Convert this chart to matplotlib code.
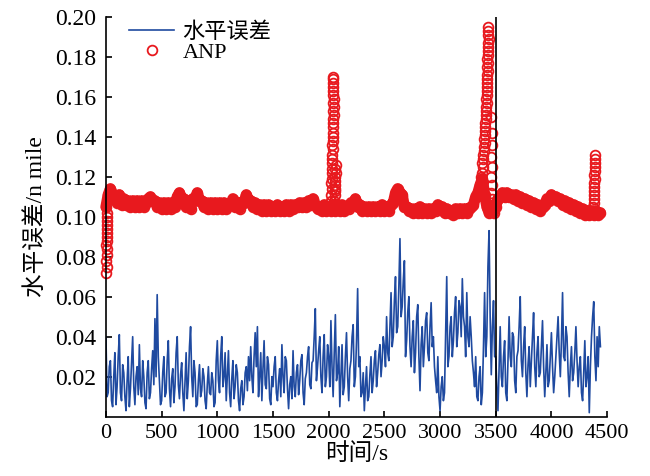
import numpy as np
import matplotlib
matplotlib.use("Agg")
from matplotlib import pyplot as plt

plt.rcParams['font.family'] = ['Liberation Serif', 'Noto Sans CJK SC']
plt.rcParams['axes.unicode_minus'] = False

# Horizontal error (blue line), one value every 10 s from 0 s to 4440 s
err_step = 10
err_values = [
    # 0 - 490 s
    0.040, 0.010, 0.012, 0.025, 0.028, 0.008, 0.005, 0.020, 0.032, 0.006,
    0.015, 0.030, 0.041, 0.012, 0.008, 0.026, 0.022, 0.010, 0.003, 0.018,
    0.030, 0.005, 0.014, 0.027, 0.040, 0.015, 0.006, 0.020, 0.025, 0.011,
    0.036, 0.014, 0.010, 0.028, 0.020, 0.007, 0.004, 0.022, 0.028, 0.009,
    0.012, 0.024, 0.033, 0.016, 0.049, 0.020, 0.061, 0.030, 0.018, 0.006,
    # 500 - 990 s
    0.008, 0.022, 0.030, 0.010, 0.012, 0.028, 0.038, 0.014, 0.005, 0.019,
    0.024, 0.007, 0.015, 0.032, 0.040, 0.016, 0.009, 0.021, 0.027, 0.012,
    0.003, 0.017, 0.032, 0.009, 0.018, 0.035, 0.045, 0.020, 0.010, 0.028,
    0.022, 0.005, 0.006, 0.018, 0.026, 0.010, 0.013, 0.024, 0.020, 0.008,
    0.004, 0.016, 0.025, 0.012, 0.011, 0.022, 0.018, 0.005, 0.007, 0.028,
    # 1000 - 1490 s
    0.038, 0.018, 0.012, 0.030, 0.040, 0.015, 0.020, 0.032, 0.008, 0.021,
    0.033, 0.012, 0.005, 0.019, 0.028, 0.009, 0.015, 0.026, 0.022, 0.008,
    0.003, 0.014, 0.018, 0.006, 0.010, 0.022, 0.025, 0.013, 0.030, 0.018,
    0.035, 0.020, 0.012, 0.030, 0.042, 0.025, 0.045, 0.010, 0.020, 0.032,
    0.008, 0.024, 0.038, 0.016, 0.014, 0.030, 0.026, 0.009, 0.006, 0.020,
    # 1500 - 1990 s
    0.015, 0.025, 0.030, 0.012, 0.008, 0.018, 0.024, 0.010, 0.036, 0.020,
    0.012, 0.030, 0.028, 0.014, 0.004, 0.016, 0.020, 0.009, 0.033, 0.015,
    0.010, 0.022, 0.026, 0.011, 0.018, 0.028, 0.031, 0.012, 0.006, 0.019,
    0.022, 0.030, 0.035, 0.016, 0.014, 0.027, 0.028, 0.040, 0.054, 0.018,
    0.025, 0.033, 0.040, 0.020, 0.012, 0.030, 0.041, 0.015, 0.020, 0.036,
    # 2000 - 2490 s
    0.030, 0.015, 0.048, 0.025, 0.010, 0.032, 0.051, 0.018, 0.022, 0.035,
    0.005, 0.020, 0.036, 0.011, 0.015, 0.030, 0.042, 0.020, 0.008, 0.024,
    0.028, 0.040, 0.046, 0.015, 0.020, 0.038, 0.064, 0.025, 0.030, 0.010,
    0.012, 0.022, 0.003, 0.015, 0.025, 0.008, 0.010, 0.021, 0.030, 0.012,
    0.018, 0.028, 0.033, 0.015, 0.022, 0.031, 0.036, 0.020, 0.028, 0.040,
    # 2500 - 2990 s
    0.035, 0.025, 0.050, 0.032, 0.028, 0.045, 0.062, 0.035, 0.040, 0.058,
    0.070, 0.042, 0.045, 0.065, 0.089, 0.050, 0.055, 0.068, 0.078, 0.030,
    0.038, 0.052, 0.060, 0.035, 0.025, 0.040, 0.048, 0.022, 0.032, 0.050,
    0.056, 0.030, 0.013, 0.036, 0.045, 0.025, 0.035, 0.048, 0.052, 0.032,
    0.028, 0.045, 0.057, 0.035, 0.040, 0.025, 0.018, 0.012, 0.030, 0.010,
    # 3000 - 3490 s
    0.003, 0.015, 0.020, 0.008, 0.012, 0.040, 0.070, 0.025, 0.030, 0.045,
    0.050, 0.030, 0.038, 0.052, 0.060, 0.035, 0.042, 0.058, 0.055, 0.040,
    0.069, 0.050, 0.045, 0.030, 0.062, 0.040, 0.035, 0.050, 0.040, 0.028,
    0.022, 0.015, 0.030, 0.010, 0.008, 0.020, 0.025, 0.006, 0.012, 0.035,
    0.062, 0.030, 0.040, 0.075, 0.093, 0.050, 0.021, 0.045, 0.058, 0.030,
    # 3500 - 3990 s
    0.030, 0.015, 0.003, 0.025, 0.045, 0.020, 0.015, 0.030, 0.038, 0.012,
    0.008, 0.028, 0.050, 0.030, 0.025, 0.042, 0.040, 0.018, 0.012, 0.030,
    0.033, 0.045, 0.060, 0.028, 0.020, 0.035, 0.045, 0.022, 0.010, 0.026,
    0.035, 0.015, 0.028, 0.040, 0.052, 0.025, 0.015, 0.032, 0.040, 0.020,
    0.022, 0.035, 0.048, 0.025, 0.010, 0.022, 0.036, 0.015, 0.018, 0.030,
    # 4000 - 4440 s
    0.042, 0.025, 0.012, 0.020, 0.030, 0.040, 0.050, 0.032, 0.020, 0.038,
    0.062, 0.030, 0.028, 0.045, 0.040, 0.022, 0.010, 0.025, 0.035, 0.018,
    0.022, 0.032, 0.045, 0.028, 0.015, 0.025, 0.030, 0.012, 0.008, 0.022,
    0.038, 0.015, 0.020, 0.030, 0.002, 0.025, 0.040, 0.050, 0.0575, 0.030,
    0.018, 0.040, 0.025, 0.045, 0.035,
]

# ANP baseline (red circles), one value every 20 s from 0 s to 4440 s
anp_step = 20
anp_values = [
    # 0 - 480 s
    0.105, 0.111, 0.114, 0.111, 0.109, 0.107, 0.111, 0.106, 0.109, 0.106,
    0.108, 0.105, 0.108, 0.105, 0.108, 0.105, 0.108, 0.105, 0.107, 0.109,
    0.110, 0.108, 0.108, 0.105, 0.107,
    # 500 - 980 s
    0.104, 0.107, 0.104, 0.107, 0.104, 0.107, 0.105, 0.110, 0.112, 0.109,
    0.109, 0.105, 0.107, 0.104, 0.109, 0.109, 0.112, 0.108, 0.108, 0.105,
    0.107, 0.104, 0.107, 0.104, 0.107,
    # 1000 - 1480 s
    0.104, 0.107, 0.104, 0.107, 0.104, 0.106, 0.106, 0.109, 0.105, 0.107,
    0.104, 0.107, 0.107, 0.111, 0.108, 0.108, 0.105, 0.107, 0.104, 0.106,
    0.103, 0.106, 0.103, 0.106, 0.103,
    # 1500 - 1980 s
    0.105, 0.103, 0.106, 0.103, 0.105, 0.103, 0.106, 0.103, 0.106, 0.104,
    0.106, 0.105, 0.107, 0.105, 0.107, 0.105, 0.108, 0.106, 0.109, 0.106,
    0.104, 0.105, 0.103, 0.106, 0.103,
    # 2000 - 2480 s
    0.105, 0.103, 0.106, 0.103, 0.106, 0.103, 0.106, 0.103, 0.105, 0.104,
    0.107, 0.106, 0.109, 0.105, 0.106, 0.103, 0.105, 0.103, 0.105, 0.103,
    0.105, 0.103, 0.105, 0.103, 0.106,
    # 2500 - 2980 s
    0.103, 0.105, 0.103, 0.106, 0.107, 0.112, 0.114, 0.112, 0.111, 0.105,
    0.105, 0.103, 0.104, 0.102, 0.104, 0.102, 0.105, 0.102, 0.104, 0.102,
    0.104, 0.102, 0.104, 0.103, 0.106,
    # 3000 - 3480 s
    0.104, 0.105, 0.102, 0.104, 0.102, 0.103, 0.101, 0.104, 0.102, 0.104,
    0.102, 0.104, 0.102, 0.104, 0.105, 0.106, 0.110, 0.112, 0.116, 0.119,
    0.111, 0.105, 0.102, 0.104, 0.102,
    # 3500 - 3980 s
    0.105, 0.109, 0.110, 0.112, 0.110, 0.112, 0.110, 0.111, 0.109, 0.111,
    0.108, 0.110, 0.107, 0.109, 0.106, 0.108, 0.105, 0.107, 0.104, 0.106,
    0.103, 0.105, 0.106, 0.109, 0.108,
    # 4000 - 4440 s
    0.111, 0.109, 0.110, 0.108, 0.109, 0.106, 0.108, 0.105, 0.107, 0.104,
    0.106, 0.103, 0.105, 0.102, 0.104, 0.101, 0.103, 0.101, 0.103, 0.101,
    0.103, 0.101, 0.102,
]

# ANP jumps (stacked circles)
jump0_t = [4, 6, 3, 5, 7, 4, 6, 8, 5, 7, 9, 6, 8, 10]
jump0_v = [0.072, 0.075, 0.078, 0.081, 0.084, 0.086, 0.088, 0.090,
           0.092, 0.094, 0.096, 0.098, 0.100, 0.102]

jump1_t = [2022, 2025, 2028, 2024, 2030, 2027, 2032, 2029, 2034, 2031,
           2036, 2033, 2038, 2035, 2040, 2037, 2042, 2039, 2044, 2041,
           2046, 2043, 2045, 2041, 2043, 2040, 2042, 2038, 2040,
           2052, 2055, 2058, 2054, 2060, 2057, 2062, 2059, 2064, 2061]
jump1_v = [0.108, 0.111, 0.114, 0.117, 0.119, 0.122, 0.124, 0.127, 0.129, 0.131,
           0.134, 0.136, 0.138, 0.140, 0.142, 0.145, 0.147, 0.149, 0.151, 0.153,
           0.155, 0.157, 0.159, 0.161, 0.163, 0.165, 0.167, 0.169, 0.170,
           0.108, 0.111, 0.113, 0.116, 0.118, 0.120, 0.122, 0.124, 0.126, 0.114]

jump2_t = [3372, 3378, 3384, 3380, 3390, 3386, 3395, 3392, 3400, 3397,
           3404, 3401, 3408, 3405, 3412, 3409, 3415, 3412, 3418, 3415,
           3421, 3418, 3424, 3420, 3426, 3422, 3428, 3424, 3430, 3426,
           3432, 3428, 3434, 3430, 3436, 3432, 3434, 3432,
           3458, 3462, 3455, 3465, 3460, 3467, 3457, 3463, 3466, 3460]
jump2_v = [0.120, 0.122, 0.125, 0.127, 0.129, 0.131, 0.133, 0.135, 0.137, 0.139,
           0.141, 0.143, 0.145, 0.147, 0.149, 0.151, 0.153, 0.155, 0.157, 0.159,
           0.161, 0.163, 0.165, 0.167, 0.169, 0.171, 0.173, 0.175, 0.177, 0.179,
           0.181, 0.183, 0.185, 0.187, 0.189, 0.191, 0.193, 0.195,
           0.106, 0.109, 0.112, 0.116, 0.120, 0.125, 0.130, 0.136, 0.142, 0.150]

jump3_t = [4372, 4376, 4380, 4378, 4384, 4381, 4386, 4383, 4388, 4385,
           4390, 4387, 4392, 4389, 4391]
jump3_v = [0.103, 0.105, 0.107, 0.109, 0.111, 0.113, 0.115, 0.117, 0.119, 0.121,
           0.123, 0.125, 0.127, 0.129, 0.131]

red = '#e8191e'
blue = '#1f4aa0'

err_t = np.arange(len(err_values)) * err_step
anp_t = np.arange(len(anp_values)) * anp_step
anp_all_t = np.concatenate([anp_t, jump0_t, jump1_t, jump2_t, jump3_t])
anp_all_v = np.concatenate([anp_values, jump0_v, jump1_v, jump2_v, jump3_v])

fig = plt.figure(figsize=(6.5, 4.76), dpi=100)
ax = fig.add_axes([0.163, 0.1246, 0.771, 0.8404])

ax.plot(err_t, err_values, color=blue, lw=1.2, label='水平误差')
# dense circles merge into a solid band in the original figure
ax.plot(anp_t, anp_values, color=red, lw=8, solid_capstyle='round',
        solid_joinstyle='round', clip_on=False)
ax.plot(anp_all_t, anp_all_v, linestyle='none', marker='o', markersize=7,
        markerfacecolor='none', markeredgecolor=red, markeredgewidth=1.3,
        clip_on=False, label='ANP')
ax.axvline(3500, color='k', lw=1.2)

ax.set_xlim(0, 4500)
ax.set_ylim(0, 0.2)
ax.set_xticks(np.arange(0, 4501, 500))
ax.set_yticks(np.arange(0.02, 0.201, 0.02))
ax.set_yticklabels(['%.2f' % v for v in np.arange(0.02, 0.201, 0.02)])
ax.spines['top'].set_visible(False)
ax.spines['right'].set_visible(False)
ax.spines['left'].set_linewidth(1.2)
ax.spines['bottom'].set_linewidth(1.2)
ax.tick_params(direction='in', length=4, width=1.2, labelsize=16, colors='k')
ax.tick_params(axis='x', pad=5)
ax.tick_params(axis='y', labelsize=17, pad=7)

ax.set_xlabel('时间/s', fontsize=17, labelpad=0)
ax.set_ylabel('水平误差/n mile', fontsize=17, labelpad=6)

leg = ax.legend(loc='upper left', bbox_to_anchor=(0.02, 1.02), frameon=False,
                fontsize=16, handlelength=2.0, handletextpad=0.4,
                labelspacing=0.0, borderaxespad=0.2)

fig.savefig('out.png', dpi=100)
